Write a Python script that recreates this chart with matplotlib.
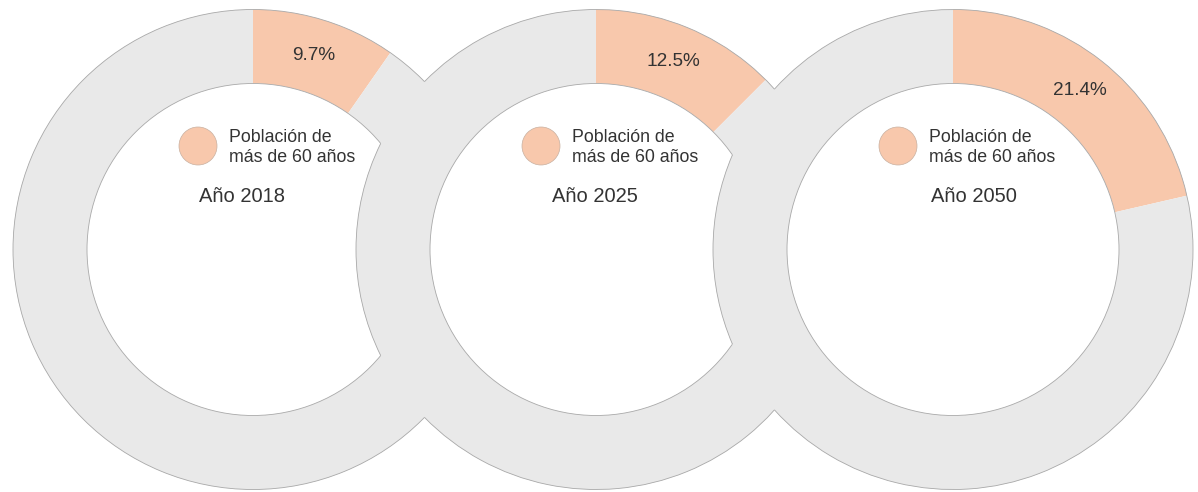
import numpy as np
import matplotlib.pyplot as plt
from matplotlib.patches import Circle, Arc

# data
years = ['Año 2018', 'Año 2025', 'Año 2050']
share_60plus = [9.7, 12.5, 21.4]
legend_label = 'Población de\nmás de 60 años'

# layout (pixel-like coordinates, y up)
W, H = 1198, 492
centers_x = [253, 596, 953]
center_y = H - 249.5
r_out = 240
r_in = 166
year_dx = [-11, -1, 21]

orange = '#f8c8ac'
grey = '#e9e9e9'
edge = '#a8a8a8'
txt = '#333333'
font = 'Liberation Sans'

fig = plt.figure(figsize=(W / 100, H / 100), dpi=100)
ax = fig.add_axes([0, 0, 1, 1])

for i, (cx, share, year) in enumerate(zip(centers_x, share_60plus, years)):
    z = 10 * (i + 1)
    wedges, _, autotexts = ax.pie(
        [share, 100 - share], radius=r_out, center=(cx, center_y),
        startangle=90, counterclock=False, colors=[orange, grey],
        wedgeprops=dict(width=r_out - r_in, edgecolor='none'),
        autopct=lambda p: f'{p:.1f}%' if p < 50 else '',
        pctdistance=(r_out + r_in) / 2 / r_out,
        textprops=dict(fontsize=13.7, color=txt, family=font))
    for w in wedges:
        w.set_zorder(z + 1)
    for t in autotexts:
        t.set_zorder(100)

    # outer outline: hidden where it runs over the previous ring
    if i == 0:
        arcs = [(0, 360)]
    else:
        d = cx - centers_x[i - 1]
        th_v = np.degrees(np.arccos(-d / (2 * r_out)))
        th_h = np.degrees(np.arccos((r_in ** 2 - d ** 2 - r_out ** 2) / (2 * d * r_out)))
        arcs = [(-th_v, th_v), (th_h, 360 - th_h)]
    for t1, t2 in arcs:
        ax.add_patch(Arc((cx, center_y), 2 * r_out, 2 * r_out, theta1=t1, theta2=t2,
                         edgecolor=edge, linewidth=0.6, zorder=z + 2))
    # white hole on top of earlier rings
    ax.add_patch(Circle((cx, center_y), r_in, facecolor='white', edgecolor=edge,
                        linewidth=0.6, zorder=z + 3))

    # legend marker + text
    ax.add_patch(Circle((cx - 55, H - 146), 19, facecolor=orange, edgecolor='#c8b0a0',
                        linewidth=0.5, zorder=100))
    ax.text(cx - 24, H - 147.5, legend_label, fontsize=12.75, color=txt, family=font,
            ha='left', va='center', linespacing=1.25, zorder=100)
    ax.text(cx + year_dx[i], H - 197, year, fontsize=14.5, color=txt, family=font,
            ha='center', va='center', zorder=100)

ax.set_xlim(0, W)
ax.set_ylim(0, H)
ax.set_aspect('equal')
ax.axis('off')

fig.savefig('out.png', dpi=100, facecolor='white')
